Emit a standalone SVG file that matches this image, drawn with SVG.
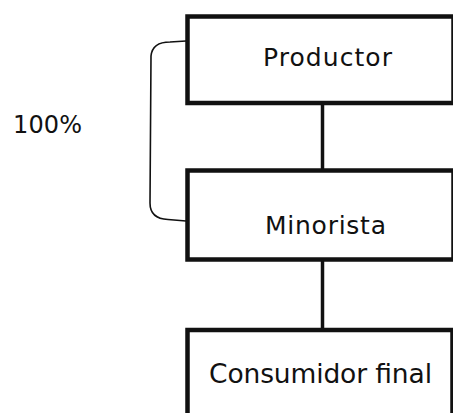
<svg xmlns="http://www.w3.org/2000/svg" width="453" height="413" viewBox="0 0 453 413">
<style>
.box{fill:#fff;stroke:#111;stroke-width:4.5}
.lbl{font-family:"DejaVu Sans",Verdana,sans-serif;fill:#111}
.con{fill:none;stroke:#111;stroke-width:3.5}
.brace{fill:none;stroke:#111;stroke-width:1.6}
</style>
<rect width="453" height="413" fill="#fff"/>
<g id="connectors">
<line class="con" x1="322.5" y1="104" x2="322.5" y2="170"/>
<line class="con" x1="322.5" y1="260" x2="322.5" y2="330"/>
<path class="brace" d="M186,41 L170,42 C159,42 152,46 151,56 L150,203 C150,214 157,219 168,219.5 L186,221"/>
</g>
<g id="productor">
<rect class="box" x="187.5" y="16.5" width="266" height="86.5"/>
<text class="lbl" x="263" y="66" font-size="25" textLength="129" lengthAdjust="spacing">Productor</text>
</g>
<g id="minorista">
<rect class="box" x="187.5" y="170.5" width="266" height="89"/>
<text class="lbl" x="265" y="234" font-size="25" textLength="121" lengthAdjust="spacing">Minorista</text>
</g>
<g id="consumidor">
<rect class="box" x="187.5" y="330" width="265" height="100"/>
<text class="lbl" x="209" y="383" font-size="26.5" textLength="223" lengthAdjust="spacing">Consumidor final</text>
</g>
<g id="pct">
<text class="lbl" x="13" y="133" font-size="24" textLength="69" lengthAdjust="spacing">100%</text>
</g>
</svg>
